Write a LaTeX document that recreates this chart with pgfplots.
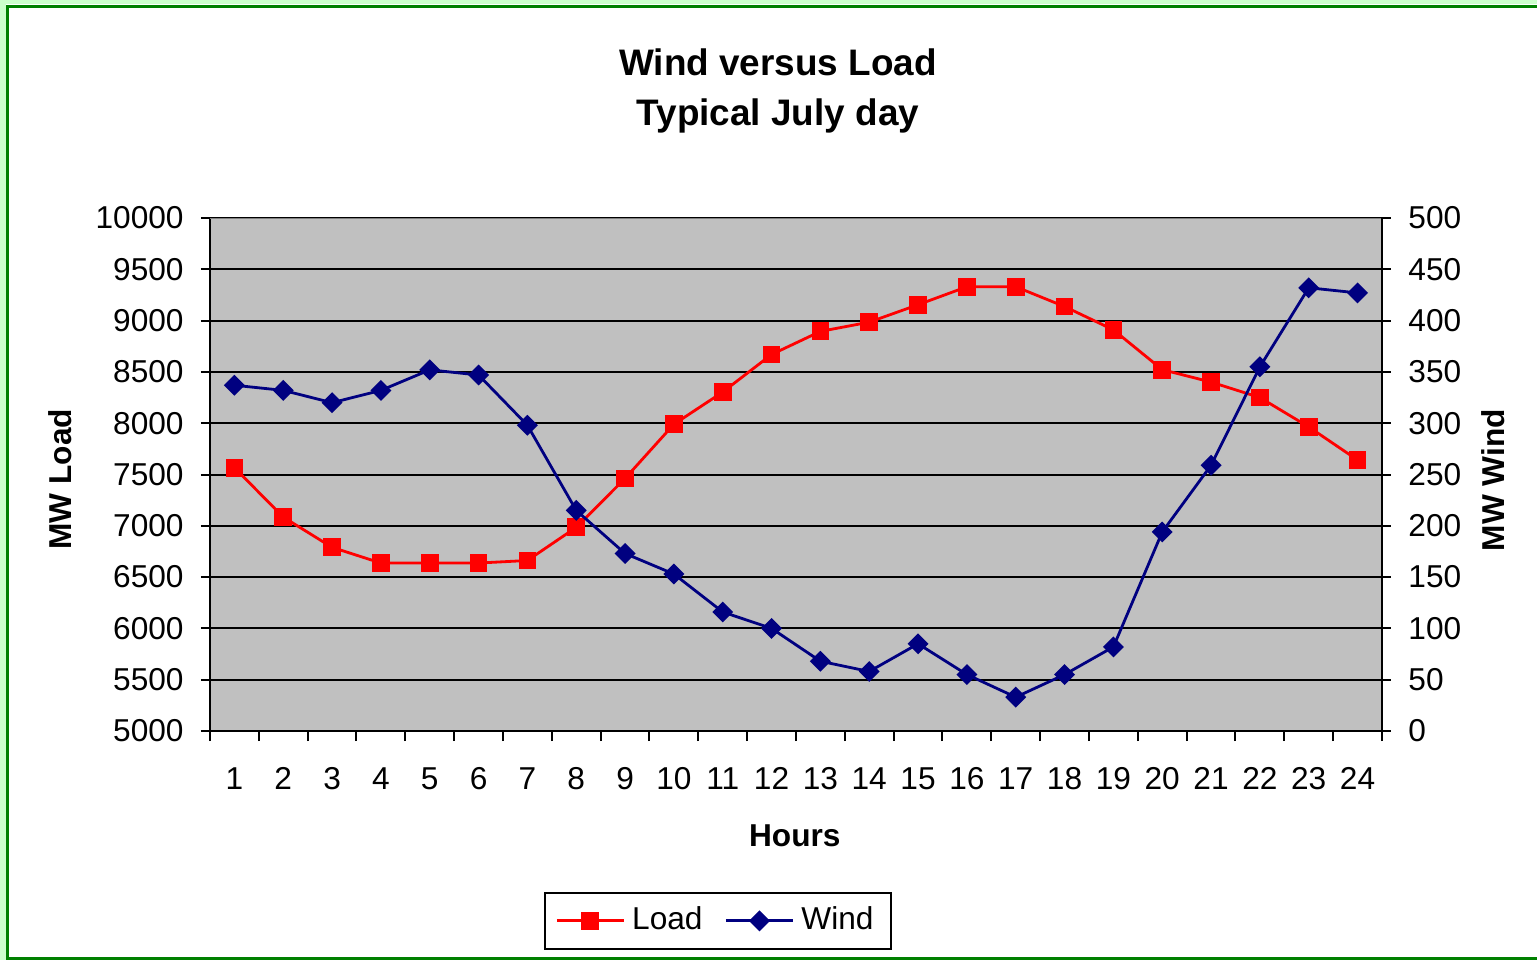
\documentclass[border=0pt]{standalone}
\usepackage{fontspec}
\setmainfont{Liberation Sans}
\usepackage{pgfplots}
\usepackage{pgfplotstable}
\pgfplotsset{compat=1.18}
\definecolor{plotgray}{HTML}{C0C0C0}
\definecolor{loadred}{HTML}{FF0000}
\definecolor{windblue}{HTML}{000080}
\definecolor{framegreen}{HTML}{008000}
\definecolor{lightgreen}{HTML}{CCFFCC}

\pgfplotstableread{
hour load wind
1 7567 337
2 7085 332
3 6790 320
4 6637 332
5 6637 352
6 6637 347
7 6662 298
8 6985 215
9 7462 173
10 7990 153
11 8304 116
12 8670 100
13 8895 68
14 8985 58
15 9155 85
16 9330 55
17 9330 33
18 9137 55
19 8910 82
20 8522 194
21 8401 259
22 8250 355
23 7964 432
24 7641 427
}\datatable

\pgfplotsset{
  base/.style={
    at={(21mm,22.9mm)}, anchor=south west,
    scale only axis, width=117.2mm, height=51.3mm,
    xmin=0.5, xmax=24.5,
    tick align=outside,
    major tick length=0.9mm,
    every tick/.style={black, line width=0.2mm},
    axis line style={black, line width=0.2mm},
    tick label style={font=\fontsize{9}{10}\selectfont},
    scaled y ticks=false,
    /pgf/number format/assume math mode=true,
    /pgf/number format/1000 sep={},
    label style={font=\bfseries\fontsize{9}{10}\selectfont},
  }
}

\begin{document}
\begin{tikzpicture}
\useasboundingbox (0,0) rectangle (153.7mm,96mm);
\fill[lightgreen] (0,0) rectangle (0.6mm,96mm);
\fill[lightgreen] (0,95.6mm) rectangle (153.7mm,96mm);
\draw[framegreen, line width=0.3mm] (0.8mm,0.15mm) rectangle (160mm,95.4mm);

\begin{axis}[base,
  axis background/.style={fill=plotgray},
  axis x line*=bottom, axis y line*=left,
  ymin=5000, ymax=10000, ytick={5000,5500,...,10000},
  ymajorgrids, grid style={black, line width=0.2mm},
  xtick={1,...,24},
  major x tick style={draw=none},
  minor xtick={0.5,1.5,...,24.5}, minor tick length=1mm,
  minor x tick style={black, line width=0.2mm},
  xticklabel style={yshift=-1.5mm},
  yticklabel style={xshift=-0.5mm},
  xlabel={Hours}, ylabel={MW Load},
  xlabel style={at={(axis description cs:0.499,-0.2047)}, anchor=center},
  ylabel style={at={(axis description cs:-0.128,0.491)}, anchor=center},
  title={Wind versus Load\\Typical July day},
  title style={at={(axis description cs:0.4846,1.2066)}, anchor=center, align=center,
    font=\bfseries\fontsize{10.5}{14.2}\selectfont},
]
\addplot[loadred, line width=0.28mm, mark=square*, mark size=0.75mm, mark options={solid}]
  table[x=hour, y=load]{\datatable};
\draw[gray, line width=0.2mm] (axis description cs:0,1) -- (axis description cs:1,1);
\end{axis}

\begin{axis}[base,
  axis x line=none, axis y line*=right,
  ymin=0, ymax=500, ytick={0,50,...,500},
  yticklabel style={xshift=0.5mm},
  ylabel={MW Wind},
  ylabel style={at={(axis description cs:1.0947,0.489)}, anchor=center},
  legend columns=2,
  legend image code/.code={\draw[mark repeat=2,mark phase=2] plot coordinates {(0mm,0mm) (3.35mm,0mm) (6.7mm,0mm)};},
  legend style={at={(axis description cs:0.4334,-0.370)}, anchor=center,
    draw=black, line width=0.2mm, font=\fontsize{9}{10}\selectfont,
    /tikz/every even column/.append style={column sep=1.5mm}},
]
\addlegendimage{loadred, line width=0.28mm, mark=square*, mark size=0.75mm, mark options={solid}}
\addlegendentry{Load}
\addplot[windblue, line width=0.28mm, mark=square*, mark size=0.6mm, mark options={solid, rotate=45}]
  table[x=hour, y=wind]{\datatable};
\addlegendentry{Wind}
\end{axis}
\end{tikzpicture}
\end{document}
